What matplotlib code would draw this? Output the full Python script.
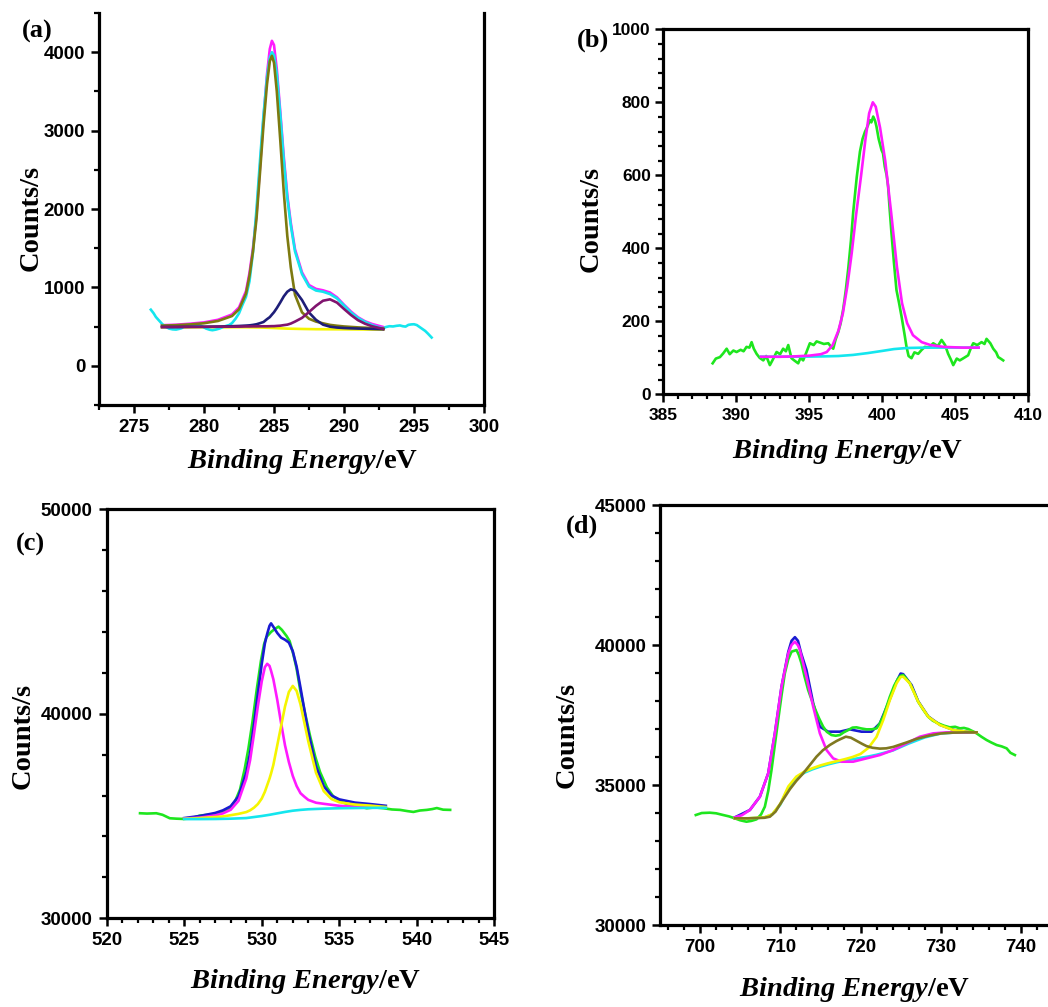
import matplotlib
matplotlib.use("Agg")
import matplotlib.pyplot as plt
from matplotlib.ticker import MultipleLocator

plt.rcParams['font.family'] = ['Liberation Sans Narrow', 'Liberation Sans', 'DejaVu Sans']
plt.rcParams['font.weight'] = 'bold'
plt.rcParams['mathtext.fontset'] = 'custom'
plt.rcParams['mathtext.it'] = 'Liberation Serif:italic:bold'
plt.rcParams['mathtext.rm'] = 'Liberation Serif:bold'
plt.rcParams['mathtext.bf'] = 'Liberation Serif:bold'

# ---------------- Panel (a) C 1s ----------------
a_raw_x = [276.2, 276.4, 276.56, 276.8, 277.03, 277.25, 277.5, 277.75, 278.0, 278.2, 278.4, 278.55, 278.7, 278.85,
           279.0, 279.15, 279.3, 279.5, 279.7, 279.9, 280.15, 280.4, 280.6, 280.85, 281.1, 281.35, 281.6, 281.8,
           282.0, 282.25, 282.5, 282.75, 283.0, 283.25, 283.5, 283.75, 284.0, 284.25, 284.5, 284.7, 284.85, 285.0,
           285.2, 285.45, 285.7, 285.95, 286.2, 286.5, 287.0, 287.5, 288.0, 288.5, 289.0, 289.5, 290.0, 290.5,
           291.0, 291.5, 292.0, 292.5, 292.8, 293.0, 293.25, 293.5, 293.75, 294.0, 294.2, 294.4, 294.6, 294.8,
           295.0, 295.2, 295.4, 295.6, 295.8, 296.0, 296.26]
a_raw_y = [716, 670, 623, 575, 530, 500, 475, 465, 462, 470, 480, 500, 517, 522,
           530, 515, 512, 525, 520, 500, 475, 460, 454, 462, 475, 495, 510, 520,
           545, 600, 670, 780, 880, 1080, 1450, 2000, 2620, 3200, 3680, 3930, 4000, 3960,
           3720, 3200, 2620, 2140, 1790, 1460, 1170, 1010, 960, 945, 915, 860, 770, 680,
           610, 560, 520, 490, 478, 495, 505, 502, 510, 515, 505, 500, 522, 528,
           530, 520, 495, 470, 445, 410, 361]

a_fit_x = [277, 278, 279, 280, 281, 282, 282.5, 283, 283.25, 283.5, 283.75, 284, 284.25, 284.5, 284.7, 284.85,
           285.0, 285.2, 285.45, 285.7, 285.95, 286.2, 286.5, 287, 287.5, 288, 288.5, 289, 289.5, 290, 290.5,
           291, 291.5, 292, 292.8]
a_env_y = [518, 524, 537, 554, 587, 655, 745, 953, 1186, 1506, 1931, 2537, 3160, 3719, 4041, 4145,
           4091, 3783, 3237, 2663, 2175, 1822, 1486, 1192, 1030, 981, 963, 935, 873, 779, 692,
           619, 568, 534, 495]
a_c1_y = [513, 518, 528, 543, 572, 635, 721, 922, 1150, 1463, 1878, 2467, 3073, 3592, 3885, 3954,
          3865, 3500, 2872, 2212, 1655, 1255, 906, 682, 600, 564, 542, 522, 511, 502, 496,
          490, 486, 482, 476]
a_c2_y = [495, 495, 497, 498, 501, 505, 508, 513, 516, 522, 530, 544, 559, 595, 621, 653,
          684, 736, 809, 886, 945, 976, 960, 839, 680, 586, 525, 499, 488, 482, 478,
          475, 473, 470, 466]
a_c3_y = [494, 495, 496, 497, 498, 499, 500, 502, 502, 503, 503, 504, 504, 504, 505, 506,
          506, 509, 512, 519, 525, 539, 564, 611, 686, 765, 830, 848, 806, 725, 648,
          582, 537, 505, 470]
a_bg_x = [277, 283, 284, 285, 286, 287, 288, 292.8]
a_bg_y = [492, 492, 489, 482, 474, 470, 467, 462]

# ---------------- Panel (b) N 1s ----------------
b_raw_x = [388.38, 388.6, 388.88, 389.1, 389.34, 389.55, 389.8, 390.02, 390.3, 390.5, 390.7, 390.9, 391.05, 391.2,
           391.39, 391.6, 391.85, 392.05, 392.3, 392.5, 392.76, 393.0, 393.21, 393.4, 393.56, 393.7, 393.78, 394.0,
           394.24, 394.4, 394.58, 394.8, 395.04, 395.3, 395.5, 395.72, 396.0, 396.3, 396.5, 396.64, 396.8, 396.98,
           397.15, 397.33, 397.5, 397.67, 397.85, 398.01, 398.25, 398.47, 398.65, 398.81, 399.0, 399.15, 399.25,
           399.38, 399.5, 399.6, 399.75, 399.95, 400.05, 400.17, 400.3, 400.4, 400.5, 400.63, 400.8, 400.97,
           401.15, 401.32, 401.5, 401.66, 401.8, 402.0, 402.2, 402.46, 402.7, 402.92, 403.2, 403.49, 403.8,
           404.06, 404.3, 404.51, 404.7, 404.86, 405.1, 405.31, 405.6, 405.88, 406.05, 406.23, 406.5, 406.8,
           407.0, 407.14, 407.4, 407.6, 407.8, 407.94, 408.1, 408.28]
b_raw_y = [85, 98, 102, 112, 125, 110, 120, 116, 122, 118, 130, 128, 143, 125,
           111, 100, 93, 105, 80, 95, 116, 110, 125, 118, 135, 112, 99, 92,
           85, 100, 93, 115, 140, 135, 145, 142, 138, 140, 130, 125, 150, 170,
           195, 235, 285, 345, 420, 500, 595, 665, 700, 719, 735, 751, 745,
           761, 750, 734, 700, 669, 660, 624, 600, 569, 510, 441, 360, 286,
           250, 213, 170, 130, 105, 99, 115, 111, 122, 130, 128, 140, 132,
           149, 135, 111, 95, 80, 98, 93, 100, 107, 125, 140, 135, 143,
           138, 152, 140, 125, 115, 102, 98, 93]
b_fit_x = [391.7, 393, 394, 395, 395.8, 396.2, 396.6, 397.0, 397.3, 397.6, 397.9, 398.2, 398.55, 398.85, 399.1,
           399.35, 399.55, 399.85, 400.2, 400.6, 401.0, 401.35, 401.7, 402.1, 402.7, 403.3, 404.2, 405.5, 406.6]
b_fit_y = [103, 103, 104, 106, 110, 116, 135, 175, 222, 295, 385, 490, 600, 700, 770,
           800, 788, 730, 640, 500, 350, 250, 195, 162, 143, 135, 130, 128, 128]
b_bg_x = [391.7, 393, 395, 396, 397, 398, 399, 400, 400.8, 401.7, 403, 405, 406.6]
b_bg_y = [103, 103, 103.5, 104, 105, 108, 113, 119, 124, 127, 128, 128, 128]

# ---------------- Panel (c) O 1s ----------------
c_raw_x = [522.15, 522.6, 523.2, 523.6, 524.07, 524.5, 524.93, 525.5, 526.0, 526.5, 527.1, 527.5, 527.95, 528.3,
           528.6, 528.9, 529.14, 529.4, 529.68, 529.95, 530.15, 530.3, 530.6, 530.85, 531.08, 531.3, 531.6, 531.8,
           532.04, 532.25, 532.47, 532.8, 533.12, 533.45, 533.76, 534.2, 534.62, 535.1, 535.7, 536.2, 536.77,
           537.3, 537.85, 538.4, 538.92, 539.4, 539.78, 540.2, 540.65, 541.0, 541.29, 541.7, 542.15]
c_raw_y = [35136, 35120, 35136, 35060, 34891, 34870, 34858, 34900, 35020, 35060, 35100, 35180, 35400, 35750,
           36300, 37300, 38300, 39600, 41200, 42600, 43400, 43750, 44000, 44150, 44260, 44100, 43800, 43550,
           42900, 42200, 41200, 40000, 38900, 37900, 37150, 36400, 35950, 35700, 35540, 35480, 35380,
           35420, 35380, 35320, 35300, 35240, 35200, 35270, 35300, 35340, 35390, 35310, 35300]
c_fit_x = [525, 526, 527, 527.5, 528, 528.5, 529, 529.25, 529.5, 529.75, 530, 530.2, 530.35, 530.5, 530.6, 530.75,
           531, 531.25, 531.5, 531.75, 532, 532.25, 532.5, 532.75, 533, 533.5, 534, 534.5, 535, 536, 537, 538]
c_env_y = [34900, 35000, 35150, 35279, 35478, 35963, 37117, 38091, 39478, 40987, 42440, 43436, 43906, 44300, 44420,
           44250, 43950, 43720, 43620, 43480, 43062, 42302, 41269, 40184, 39114, 37419, 36451, 36006, 35814, 35657,
           35584, 35500]
c_p1_y = [34880, 34920, 35030, 35130, 35307, 35743, 36824, 37737, 39020, 40377, 41586, 42277, 42442, 42342, 42100,
          41681, 40680, 39531, 38456, 37635, 36962, 36464, 36114, 35944, 35789, 35650, 35597, 35548, 35500, 35450,
          35430, 35420]
c_p2_y = [34860, 34900, 34950, 34980, 35041, 35105, 35193, 35279, 35408, 35585, 35854, 36184, 36506, 36829, 37080,
          37505, 38455, 39405, 40355, 41068, 41360, 41118, 40455, 39555, 38655, 37114, 36214, 35828, 35673, 35561,
          35510, 35440]
c_bg_x = [525, 526, 527, 528, 529, 529.5, 530, 530.5, 531, 531.5, 532, 532.5, 533, 534, 535, 536, 537, 538]
c_bg_y = [34850, 34850, 34855, 34870, 34900, 34950, 35000, 35060, 35130, 35200, 35260, 35300, 35330, 35360,
          35380, 35390, 35400, 35400]

# ---------------- Panel (d) Fe 2p ----------------
d_raw_x = [699.46, 700.2, 701.21, 702.0, 702.87, 703.6, 704.33, 705.0, 705.78, 706.4, 707.03, 707.6, 708.07, 708.5,
           708.9, 709.3, 709.73, 710.15, 710.56, 711.0, 711.4, 712.02, 712.3, 712.64, 713.0, 713.47, 713.9, 714.3,
           714.8, 715.34, 715.8, 716.38, 716.9, 717.42, 717.9, 718.46, 719.0, 719.5, 720.1, 720.75, 721.4, 722.0,
           722.4, 722.83, 723.25, 723.66, 724.2, 724.7, 725.0, 725.32, 725.7, 726.15, 726.7, 727.19, 727.8, 728.44,
           729.0, 729.69, 730.4, 731.14, 731.8, 732.39, 732.9, 733.43, 734.0, 734.47, 735.1, 735.72, 736.3, 736.97,
           737.6, 738.22, 738.7, 739.25]
d_raw_y = [33929, 34000, 34012, 33990, 33929, 33880, 33810, 33740, 33690, 33720, 33774, 33950, 34226, 34800,
           35536, 36400, 37320, 38200, 38988, 39500, 39762, 39821, 39650, 39345, 38900, 38393, 38050, 37738,
           37400, 37083, 36900, 36786, 36760, 36786, 36880, 36964, 37050, 37060, 37020, 36988, 36990, 37024,
           37200, 37440, 37800, 38155, 38550, 38810, 38900, 38929, 38800, 38631, 38300, 37976, 37700, 37440,
           37300, 37202, 37120, 37060, 37080, 37024, 37040, 37000, 36920, 36845, 36720, 36607, 36520, 36429,
           36380, 36310, 36150, 36071]
d_env_x = [704.33, 706.2, 707.45, 708.49, 709.32, 710.15, 710.99, 711.4, 711.82, 712.2, 712.6, 713.26, 714.1, 714.93,
           715.97, 717.42, 718.67, 720.12, 721.37, 722.41, 723.45, 724.49, 725.0, 725.32, 726.36, 727.19, 728.44,
           729.9, 731.56, 733.22, 734.47]
d_env_y = [33845, 34107, 34583, 35417, 36845, 38512, 39750, 40150, 40280, 40150, 39700, 39107, 37917, 37083,
           36905, 36905, 36988, 36905, 36905, 37202, 37917, 38690, 38980, 38960, 38571, 37990, 37450,
           37150, 36970, 36905, 36880]
d_p1_x = [704.33, 705.2, 706.2, 707.45, 708.49, 709.32, 710.15, 710.99, 711.4, 711.82, 712.2, 712.44, 713.26, 714.1,
          714.93, 715.76, 716.59, 717.63, 719.08, 720.75, 722.41, 724.07, 725.74, 727.4, 729.06, 730.73, 732.8, 734.47]
d_p1_y = [33845, 33920, 34107, 34583, 35417, 36845, 38512, 39702, 40000, 40119, 39990, 39821, 38869, 37798,
          36845, 36250, 35952, 35833, 35833, 35952, 36071, 36250, 36488, 36726, 36845, 36880, 36880, 36880]
d_p2_x = [704.33, 706, 708, 709, 710, 711, 712, 713, 714, 715, 716, 717, 718, 719, 720, 721, 722, 722.83, 723.66,
          724.49, 725.0, 725.32, 726.15, 727.19, 728.44, 729.9, 731.56, 733.22, 734.47]
d_p2_y = [33810, 33812, 33845, 33960, 34330, 34950, 35300, 35480, 35600, 35700, 35780, 35850, 35920, 36000, 36110,
          36330, 36720, 37320, 38036, 38631, 38860, 38869, 38631, 37976, 37440, 37143, 36964, 36905, 36880]
d_sat_x = [704.33, 706, 708, 708.7, 709.4, 709.94, 711.19, 712.0, 712.85, 713.7, 714.51, 715.3, 716.17, 717.0, 717.5,
           718.17, 718.8, 719.5, 720.2, 720.75, 721.5, 722.41, 723.2, 724.07, 725, 725.74, 727, 728.5, 730, 731.5,
           733, 734.47]
d_sat_y = [33810, 33810, 33830, 33869, 34050, 34300, 34850, 35150, 35417, 35720, 36012, 36240, 36429, 36570, 36640,
           36726, 36690, 36580, 36470, 36390, 36330, 36300, 36310, 36360, 36450, 36520, 36650, 36760, 36840, 36870,
           36880, 36880]
d_bg_x = [704.33, 706, 708, 709, 710, 711, 712, 713, 714, 715, 716, 717, 718, 719, 720, 721, 722, 724, 726, 728,
          730, 732, 734.47]
d_bg_y = [33810, 33810, 33840, 33950, 34300, 34900, 35250, 35440, 35560, 35660, 35740, 35810, 35870, 35920, 35970,
          36020, 36080, 36230, 36480, 36700, 36840, 36880, 36880]

# ---------------- colours ----------------
GREEN = '#1ee61e'
CYAN = '#14e6ee'
MAGENTA = '#ff1aff'
BLUE = '#1a1ad2'
YELLOW = '#f5f500'
OLIVE = '#807820'
NAVY = '#1e1e78'
PURPLE = '#80146e'
OLIVE_A = '#7d7a10'

W, H = 1048, 1007
fig = plt.figure(figsize=(W / 100, H / 100), dpi=100)


def px(x, y):
    return x / W, 1 - y / H


def style(ax, xmaj, xmin, ymaj, ymin, top=True, size=13.5):
    for s in ax.spines.values():
        s.set_linewidth(2.3)
    if not top:
        ax.spines['top'].set_visible(False)
    ax.xaxis.set_major_locator(MultipleLocator(xmaj))
    ax.xaxis.set_minor_locator(MultipleLocator(xmin))
    ax.yaxis.set_major_locator(MultipleLocator(ymaj))
    ax.yaxis.set_minor_locator(MultipleLocator(ymin))
    ax.tick_params(which='major', direction='out', length=6, width=1.8, pad=4, labelsize=size)
    ax.tick_params(which='minor', direction='out', length=3.5, width=1.6)
    ax.tick_params(top=False, right=False, which='both')
    for lab in ax.get_xticklabels() + ax.get_yticklabels():
        lab.set_fontweight('bold')


LW = 1.9
ylab_kw = dict(family='Liberation Serif', fontweight='bold', fontsize=20.5, rotation=90, ha='center', va='center')
xlab_kw = dict(family='Liberation Serif', fontweight='bold', fontsize=20.5, ha='center', va='center')
let_kw = dict(family='Liberation Serif', fontweight='bold', fontsize=19, ha='center', va='center')
XLABEL = r'$\mathit{Binding\ Energy}$/eV'

# (a)
axa = fig.add_axes([0.0945, 0.5978, 0.3673, 0.3893])
axa.plot(a_bg_x, a_bg_y, color=YELLOW, lw=LW)
axa.plot(a_fit_x, a_env_y, color=MAGENTA, lw=LW)
axa.plot(a_raw_x, a_raw_y, color=CYAN, lw=LW)
axa.plot(a_fit_x, a_c1_y, color=OLIVE_A, lw=LW)
axa.plot(a_fit_x, a_c2_y, color=NAVY, lw=LW)
axa.plot(a_fit_x, a_c3_y, color=PURPLE, lw=LW)
axa.set_xlim(272.5, 300)
axa.set_ylim(-500, 4500)
style(axa, 5, 2.5, 1000, 500, top=False)
fig.text(*px(31, 218), 'Counts/s', **ylab_kw)
fig.text(*px(303, 461), XLABEL, **xlab_kw)
fig.text(*px(37, 31), '(a)', **let_kw)

# (b)
axb = fig.add_axes([0.6329, 0.6084, 0.3483, 0.3625])
axb.plot(b_raw_x, b_raw_y, color=GREEN, lw=LW)
axb.plot(b_bg_x, b_bg_y, color=CYAN, lw=LW)
axb.plot(b_fit_x, b_fit_y, color=MAGENTA, lw=LW)
axb.set_xlim(385, 410)
axb.set_ylim(0, 1000)
style(axb, 5, 1, 200, 40, size=12.5)
axb.tick_params(axis='y', which='major', pad=3)
fig.text(*px(591, 219), 'Counts/s', **ylab_kw)
fig.text(*px(848, 451), XLABEL, **xlab_kw)
fig.text(*px(593, 40), '(b)', **let_kw)

# (c)
axc = fig.add_axes([0.1018, 0.0881, 0.3699, 0.4062])
axc.plot(c_raw_x, c_raw_y, color=GREEN, lw=LW)
axc.plot(c_fit_x, c_env_y, color=BLUE, lw=LW)
axc.plot(c_fit_x, c_p1_y, color=MAGENTA, lw=LW)
axc.plot(c_fit_x, c_p2_y, color=YELLOW, lw=LW)
axc.plot(c_bg_x, c_bg_y, color=CYAN, lw=LW)
axc.set_xlim(520, 545)
axc.set_ylim(30000, 50000)
style(axc, 5, 1, 10000, 2000)
fig.text(*px(23, 736), 'Counts/s', **ylab_kw)
fig.text(*px(306, 982), XLABEL, **xlab_kw)
fig.text(*px(30, 544), '(c)', **let_kw)

# (d)
axd = fig.add_axes([0.6298, 0.0814, 0.3826, 0.4171])
axd.plot(d_env_x, d_env_y, color=BLUE, lw=LW)
axd.plot(d_raw_x, d_raw_y, color=GREEN, lw=LW)
axd.plot(d_bg_x, d_bg_y, color=CYAN, lw=LW)
axd.plot(d_p1_x, d_p1_y, color=MAGENTA, lw=LW)
axd.plot(d_p2_x, d_p2_y, color=YELLOW, lw=LW)
axd.plot(d_sat_x, d_sat_y, color=OLIVE, lw=LW)
axd.set_xlim(695, 745)
axd.set_ylim(30000, 45000)
style(axd, 10, 2, 5000, 1000)
fig.text(*px(567, 735), 'Counts/s', **ylab_kw)
fig.text(*px(855, 990), XLABEL, **xlab_kw)
fig.text(*px(582, 526), '(d)', **let_kw)

fig.savefig('out.png', dpi=100)
